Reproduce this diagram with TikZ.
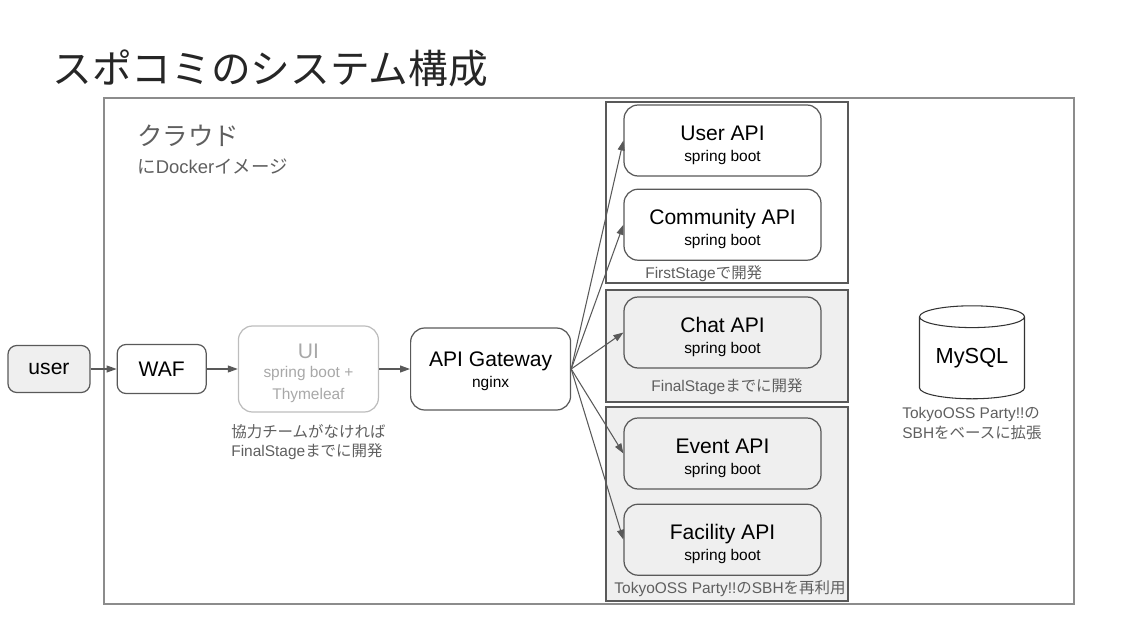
\documentclass[tikz,border=0pt]{standalone}
\usepackage{fontspec}
\setmainfont{Liberation Sans}
\newfontfamily\jp{Noto Sans CJK JP}
\usetikzlibrary{positioning,shapes.geometric,arrows.meta}
\definecolor{lineGray}{HTML}{595959}
\definecolor{frameGray}{HTML}{8C8C8C}
\definecolor{fillGray}{HTML}{EFEFEF}
\definecolor{textGray}{HTML}{5F5F5F}
\definecolor{faintGray}{HTML}{BDBDBD}
\definecolor{faintText}{HTML}{A8A8A8}
\newcommand{\smalltxt}[1]{{\fontsize{8.8}{11}\selectfont #1}}
\newcommand{\toppad}[1]{\rule{0pt}{#1}}
\tikzstyle{BoxNode}=[rectangle, draw=lineGray, line width=0.7pt, rounded corners=5pt, inner sep=0pt, font=\fontsize{12}{14}\selectfont, align=center]
\tikzstyle{ApiNode}=[BoxNode, rounded corners=8pt, minimum width=3.94cm, minimum height=1.42cm]
\tikzstyle{GroupBox}=[draw=lineGray, line width=0.6pt]
\tikzstyle{NoteText}=[text=textGray, font=\fontsize{8.8}{11}\selectfont, inner sep=0pt]
\tikzstyle{Flow}=[draw=lineGray, line width=0.6pt, -{Triangle[length=2mm, width=1.4mm]}]

\begin{document}
\begin{tikzpicture}[x=0.02cm, y=-0.02cm]
    \useasboundingbox (0,0) rectangle (1128,635);

    % title and cloud frame
    \node (title) [anchor=west, inner sep=0pt, font=\jp\fontsize{22.6}{26}\selectfont, text=black!85] at (52,68) {スポコミのシステム構成};
    \draw [draw=frameGray, line width=1pt] (104,98) rectangle (1074,604);
    \node (cloud) [anchor=west, inner sep=0pt, text=textGray, font=\jp\fontsize{14.5}{17}\selectfont] at (137,136) {クラウド};
    \node (docker) [anchor=west, inner sep=0pt, text=textGray, font=\fontsize{10.5}{13}\selectfont] at (137,166) {{\jp に}Docker{\jp イメージ}};

    % stage groups
    \draw [GroupBox, fill=white] (606,102) rectangle (848,283);
    \draw [GroupBox, fill=fillGray] (606,290) rectangle (848,402);
    \draw [GroupBox, fill=fillGray] (606,407) rectangle (848,601);
    \node (firstlbl) [NoteText, anchor=west] at (645,274) {FirstStage{\jp で開発}};
    \node (finallbl) [NoteText] at (727,387) {FinalStage{\jp までに開発}};
    \node (reuselbl) [NoteText] at (730,589) {TokyoOSS Party!!{\jp の}SBH{\jp を再利用}};

    % request chain
    \node (user) [BoxNode, fill=fillGray, minimum width=1.64cm, minimum height=0.94cm] at (49,369) {user};
    \node (waf) [BoxNode, minimum width=1.78cm, minimum height=0.98cm, right=0.52cm of user] {WAF};
    \node (ui) [BoxNode, draw=faintGray, text=faintText, rounded corners=8pt, minimum width=2.8cm, minimum height=1.72cm, right=0.62cm of waf] {\toppad{13pt}UI\\[-3pt]\smalltxt{spring boot +}\\[-2pt]\smalltxt{Thymeleaf}};
    \node (uinote) [NoteText, align=left, below=0.22cm of ui] {{\jp 協力チームがなければ}\\FinalStage{\jp までに開発}};
    \node (gateway) [BoxNode, rounded corners=8pt, minimum width=3.2cm, minimum height=1.64cm, right=0.62cm of ui] {\toppad{11pt}API Gateway\\[-2pt]\smalltxt{nginx}};

    % services
    \node (userapi) [ApiNode] at (722.5,140.5) {\toppad{13.5pt}User API\\[-2pt]\smalltxt{spring boot}};
    \node (communityapi) [ApiNode, below=0.24cm of userapi] {\toppad{13.5pt}Community API\\[-2pt]\smalltxt{spring boot}};
    \node (chatapi) [ApiNode] at (722.5,332.5) {\toppad{13.5pt}Chat API\\[-2pt]\smalltxt{spring boot}};
    \node (eventapi) [ApiNode] at (722.5,453.5) {\toppad{13.5pt}Event API\\[-2pt]\smalltxt{spring boot}};
    \node (facilityapi) [ApiNode, below=0.28cm of eventapi] {\toppad{13.5pt}Facility API\\[-2pt]\smalltxt{spring boot}};

    % database
    \node (mysql) [cylinder, shape border rotate=90, aspect=0.3, draw=black!80, line width=0.6pt, minimum width=2.1cm, minimum height=1.86cm, inner sep=0pt, font=\fontsize{12.4}{14}\selectfont] at (972,358) {MySQL};
    \node (mysqlnote) [NoteText, align=left, below=0.16cm of mysql] {TokyoOSS Party!!{\jp の}\\SBH{\jp をベースに拡張}};

    \draw [Flow] (user) -- (waf);
    \draw [Flow] (waf) -- (ui);
    \draw [Flow] (ui) -- (gateway);
    \draw [Flow] (gateway.east) -- (userapi.west);
    \draw [Flow] (gateway.east) -- (communityapi.west);
    \draw [Flow] (gateway.east) -- (chatapi.west);
    \draw [Flow] (gateway.east) -- (eventapi.west);
    \draw [Flow] (gateway.east) -- (facilityapi.west);
\end{tikzpicture}
\end{document}
